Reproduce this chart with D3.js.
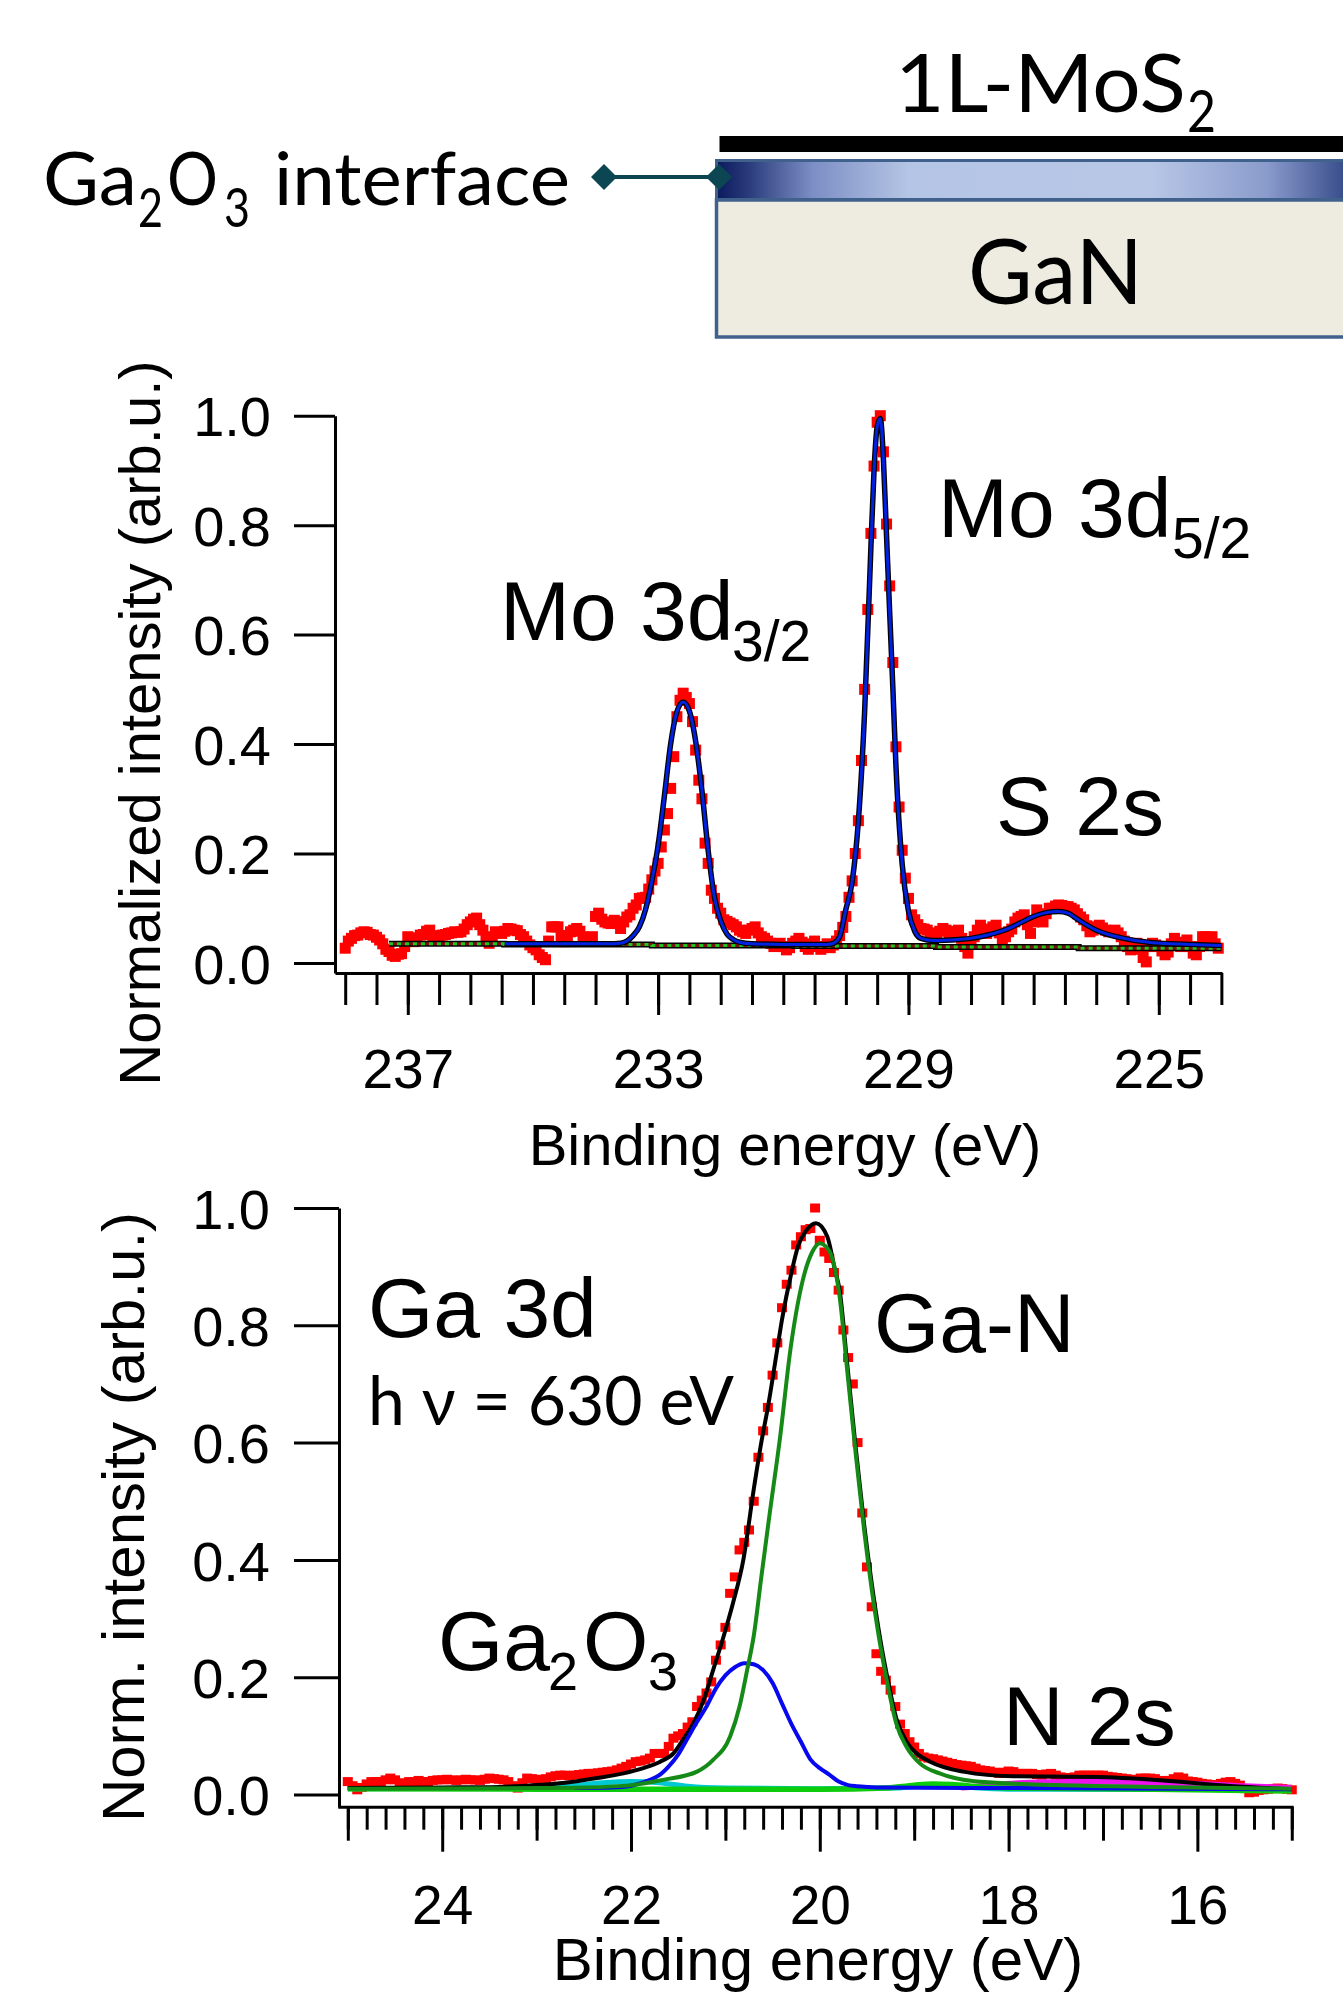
<!DOCTYPE html>
<html>
<head>
<meta charset="utf-8">
<script src="https://cdn.jsdelivr.net/npm/d3@7/dist/d3.min.js"></script>
<style>
  body { margin: 0; background: #fff; }
  svg { display: block; }
  .ax path, .ax line { stroke: #000; stroke-width: 3; }
  .ax text { font-family: "Liberation Sans", Arial, sans-serif; fill: #000; }
  .lbl { font-family: "Liberation Sans", Arial, sans-serif; fill: #000; }
  .cal { font-family: Lato, "Open Sans", sans-serif; fill: #000; }
</style>
</head>
<body>
<svg id="fig" width="1343" height="1995"></svg>
<script>
// ---------------- data ----------------

// Mo 3d / S 2s spectrum, sampled from 238.00 eV down to 224.05 eV every 0.05 eV
const moStart = 238.0, moStep = 0.05
const moCounts = [
  .027,.040,.045,.050,.051,.055,.057,.056,.052,.051,.047,.042,.035,.025,.021,.014,.012,.016,.017,.030,
  .048,.046,.039,.044,.051,.052,.058,.060,.050,.042,.046,.051,.052,.054,.055,.057,.056,.057,.062,.070,
  .075,.080,.082,.070,.060,.045,.036,.048,.057,.056,.054,.058,.063,.062,.060,.059,.052,.048,.040,.033,
  .028,.024,.015,.010,.006,.040,.066,.066,.066,.050,.039,.050,.057,.060,.063,.058,.048,.042,.045,.048,
  .085,.091,.080,.075,.073,.072,.078,.075,.063,.075,.084,.088,.100,.106,.118,.119,.120,.135,.152,.168,
  .182,.212,.243,.273,.319,.377,.450,.480,.493,.485,.474,.441,.389,.334,.300,.219,.182,.133,.118,.100,
  .091,.079,.076,.073,.070,.066,.060,.057,.054,.060,.063,.066,.055,.048,.045,.040,.036,.030,.033,.036,
  .030,.024,.028,.036,.040,.045,.038,.030,.025,.035,.040,.030,.025,.030,.035,.028,.033,.040,.050,.065,
  .085,.120,.150,.200,.260,.370,.500,.646,.785,.908,.988,1.00,.934,.802,.689,.549,.395,.285,.206,.155,
  .118,.088,.079,.070,.063,.062,.060,.055,.048,.050,.058,.063,.060,.054,.056,.058,.060,.045,.030,.018,
  .035,.048,.060,.069,.062,.054,.060,.066,.069,.055,.042,.048,.057,.062,.075,.082,.085,.088,.070,.054,
  .075,.097,.085,.075,.090,.100,.100,.104,.106,.105,.103,.103,.100,.097,.090,.084,.079,.068,.057,.060,
  .066,.069,.064,.060,.057,.058,.060,.055,.048,.040,.030,.024,.030,.036,.025,.010,.002,.030,.036,.033,
  .030,.022,.015,.020,.035,.045,.038,.030,.036,.042,.030,.018,.015,.030,.048,.048,.045,.048,.035,.027
]

// fit envelope (Mo 3d doublet + S 2s), energy / intensity pairs
const moFitE = [235.45,234.5,233.8,233.6,233.5,233.4,233.3,233.2,233.1,233.0,232.9,232.8,232.7,232.6,
  232.5,232.4,232.3,232.2,232.1,232.0,231.9,231.8,231.7,231.5,231.0,230.5,230.3,230.2,230.1,230.0,
  229.9,229.8,229.7,229.6,229.55,229.5,229.45,229.4,229.35,229.3,229.25,229.2,229.1,229.0,228.9,228.8,
  228.6,228.2,228.0,227.7,227.4,227.2,227.0,226.8,226.6,226.45,226.3,226.0,225.6,225.1,224.5,224.0]
const moFitV = [.035,.035,.035,.036,.040,.050,.066,.098,.150,.215,.305,.400,.459,.477,
  .460,.405,.315,.205,.120,.077,.053,.043,.038,.035,.034,.034,.034,.036,.048,.098,
  .148,.260,.460,.760,.900,.980,.995,.920,.780,.640,.505,.360,.180,.095,.058,.045,
  .041,.043,.045,.052,.063,.074,.085,.092,.094,.091,.080,.060,.046,.037,.034,.032]

// stepped background: segment edges and levels
const moBgE = [237.3, 235.46, 233.1, 230.83, 228.56, 226.28, 224.0]
const moBgV = [.035, .034, .032, .031, .029, .027]

const moMajorTicks = [237, 233, 229, 225]
const yTicks = [0, 0.2, 0.4, 0.6, 0.8, 1.0]

// Ga 3d / N 2s spectrum, sampled from 25.00 eV down to 15.00 eV every 0.05 eV
const gaStart = 25.0, gaStep = 0.05
const gaCounts = [
  .022,.015,.008,.012,.018,.022,.022,.022,.025,.028,.025,.019,.020,.022,.022,.024,.022,.022,.024,.025,
  .025,.026,.025,.024,.025,.026,.025,.025,.024,.026,.028,.027,.026,.025,.022,.015,.011,.020,.028,.027,
  .026,.025,.027,.030,.032,.033,.033,.032,.033,.034,.035,.036,.036,.037,.038,.039,.040,.042,.045,.048,
  .052,.056,.057,.059,.062,.070,.070,.070,.082,.096,.100,.104,.115,.124,.150,.161,.173,.192,.229,.255,
  .285,.343,.371,.417,.430,.451,.500,.575,.620,.660,.715,.770,.830,.870,.894,.937,.951,.963,.965,1.00,
  .945,.925,.914,.890,.860,.792,.745,.700,.600,.480,.388,.320,.240,.210,.195,.178,.150,.120,.104,.090,
  .081,.070,.064,.062,.061,.059,.057,.055,.053,.051,.050,.049,.048,.045,.042,.041,.040,.038,.036,.038,
  .040,.039,.036,.036,.036,.036,.034,.033,.035,.036,.033,.030,.029,.028,.030,.033,.033,.033,.033,.033,
  .033,.031,.030,.029,.028,.027,.025,.026,.028,.028,.028,.027,.024,.022,.024,.027,.030,.028,.023,.022,
  .021,.019,.018,.016,.017,.019,.021,.022,.019,.016,.010,.003,.004,.007,.008,.009,.010,.011,.010,.009,
  .008
]

// fit envelope (black)
const gaSumE = [25.0,24.0,23.4,23.0,22.7,22.36,22.08,21.87,21.69,21.55,21.45,21.34,21.23,21.13,21.02,
  20.92,20.81,20.70,20.62,20.55,20.45,20.40,20.30,20.23,20.15,20.04,19.92,19.84,19.79,19.71,19.62,
  19.53,19.45,19.36,19.27,19.19,19.08,19.00,18.83,18.48,17.95,17.07,16.36,15.65,15.0]
const gaSumV = [.011,.012,.013,.016,.020,.028,.036,.045,.056,.070,.093,.121,.161,.212,.269,
  .326,.400,.520,.600,.660,.760,.810,.890,.935,.960,.974,.951,.895,.860,.735,.592,
  .460,.360,.265,.188,.130,.090,.074,.056,.039,.031,.030,.024,.0145,.009]

// Ga-N component (green)
const gaNE = [25.0,23.0,22.5,22.0,21.66,21.30,21.13,20.95,20.85,20.77,20.70,20.62,20.53,20.42,20.31,
  20.18,20.08,20.00,19.94,19.88,19.79,19.71,19.62,19.53,19.45,19.36,19.27,19.19,19.08,18.94,18.73,
  18.48,18.13,17.5,16.5,15.0]
const gaNV = [.010,.011,.012,.016,.025,.039,.059,.099,.150,.212,.270,.370,.480,.610,.760,
  .877,.925,.940,.935,.920,.849,.724,.582,.450,.350,.255,.178,.121,.081,.053,.036,
  .025,.020,.016,.013,.010]

// Ga2O3 component (blue)
const gaOxE = [22.6,22.2,22.0,21.8,21.7,21.6,21.5,21.4,21.3,21.2,21.1,21.0,20.9,20.8,20.7,20.6,20.5,
  20.4,20.3,20.2,20.1,20.0,19.9,19.8,19.7,19.6,19.4,18.0,15.0]
const gaOxV = [.011,.012,.015,.025,.033,.048,.068,.096,.124,.150,.181,.203,.217,.224,.222,.212,.190,
  .155,.120,.090,.060,.045,.034,.022,.016,.014,.012,.011,.009]

// small components near the baseline
const gaCyanE = [25.0,23.0,22.7,22.3,22.0,21.7,21.4,21.0,20.0,19.2,18.9,18.7,18.4,18.0,15.0]
const gaCyanV = [.010,.011,.014,.020,.022,.020,.014,.011,.010,.011,.015,.016,.012,.009,.008]
const gaLimeE = [25.0,22.0,20.0,19.3,19.0,18.8,18.6,18.3,18.0,17.0,16.0,15.0]
const gaLimeV = [.010,.009,.009,.011,.016,.018,.017,.013,.011,.010,.008,.006]
const gaPinkE = [18.5,18.2,17.9,17.5,17.0,16.5,16.0,15.5,15.0]
const gaPinkV = [.012,.015,.019,.021,.022,.020,.018,.014,.011]

const gaMajorTicks = [24, 22, 20, 18, 16]
const gaMidTicks = [25, 23, 21, 19, 17, 15]

// ---------------- setup ----------------
const svg = d3.select("#fig")
const zip = (es, vs) => es.map((e, i) => [e, vs[i]])
const sampled = (start, step, vs) => vs.map((v, i) => [+(start - i * step).toFixed(2), v])

// ---------------- schematic ----------------
const defs = svg.append("defs")
const grad = defs.append("linearGradient").attr("id", "band")
grad.selectAll("stop")
  .data([[0, "#0a1a5c"], [0.05, "#2a3b7c"], [0.15, "#7c8ec4"], [0.3, "#b5c5e5"], [0.68, "#b8c7e6"], [0.86, "#8a9bcc"], [1, "#2c4182"]])
  .join("stop")
  .attr("offset", d => d[0])
  .attr("stop-color", d => d[1])

// MoS2 layer
svg.append("rect").attr("x", 719.5).attr("y", 136).attr("width", 640).attr("height", 16).attr("fill", "#000")
// oxide interface band
svg.append("rect").attr("x", 716.5).attr("y", 160.5).attr("width", 640).attr("height", 39)
  .attr("fill", "url(#band)").attr("stroke", "#41618d").attr("stroke-width", 3)
// GaN substrate
svg.append("rect").attr("x", 716.5).attr("y", 200).attr("width", 640).attr("height", 137)
  .attr("fill", "#eeece1").attr("stroke", "#41618d").attr("stroke-width", 3.5)

// connector with diamond ends
svg.append("line").attr("x1", 604).attr("x2", 719).attr("y1", 177).attr("y2", 177)
  .attr("stroke", "#0b4652").attr("stroke-width", 4)
svg.selectAll("path.dia").data([604, 719]).join("path")
  .attr("class", "dia")
  .attr("d", d => `M${d - 13},177L${d},164L${d + 13},177L${d},190Z`)
  .attr("fill", "#0b4652")

// schematic texts (Calibri-like)
const calText = (t, x, y, size, len) => svg.append("text").attr("class", "cal")
  .attr("x", x).attr("y", y).style("font-size", size + "px")
  .attr("textLength", len).attr("lengthAdjust", "spacingAndGlyphs").text(t)

calText("1L-MoS", 895, 112, 82, 291)
calText("2", 1187, 132, 58, 29)
calText("Ga", 43, 205, 74, 94)
calText("2", 138, 227, 54, 25)
calText("O", 167, 205, 74, 51)
calText("3", 224, 227, 54, 26)
calText("interface", 274, 205, 74, 296)
calText("GaN", 968, 304, 91, 175)

// ---------------- top panel: Mo 3d ----------------
const x1 = d3.scaleLinear().domain([238.163, 223.99]).range([335, 1222])
const y1 = d3.scaleLinear().domain([-0.0183, 1]).range([973, 415.7])

// minor ticks every 0.5 eV with the axis line
svg.append("g").attr("class", "ax").attr("transform", "translate(0,973)")
  .call(d3.axisBottom(x1).tickValues(d3.range(224, 238.01, 0.5)).tickSize(32).tickSizeOuter(0).tickFormat(""))
// labelled ticks
svg.append("g").attr("class", "ax").attr("transform", "translate(0,973)")
  .call(d3.axisBottom(x1).tickValues(moMajorTicks).tickSize(42).tickPadding(34).tickFormat(d3.format("d")))
  .call(g => g.select(".domain").remove())
  .selectAll("text").style("font-size", "55px")

svg.append("g").attr("class", "ax").attr("transform", "translate(335,0)")
  .call(d3.axisLeft(y1).tickValues(yTicks).tickSize(41).tickPadding(23).tickSizeOuter(0).tickFormat(d3.format(".1f")))
  .selectAll("text").style("font-size", "56px").attr("dy", "0.36em")

// data points
svg.append("g").selectAll("rect")
  .data(sampled(moStart, moStep, moCounts))
  .join("rect")
  .attr("x", d => x1(d[0]) - 5.5)
  .attr("y", d => y1(d[1]) - 5.5)
  .attr("width", 11)
  .attr("height", 11)
  .attr("fill", "#ff0000")

// stepped background: black line with maroon / green dashes
const bgPts = moBgV.map((v, i) => [moBgE[i], v]).concat([[moBgE[moBgE.length - 1], moBgV[moBgV.length - 1]]])
const bgLine = d3.line().x(d => x1(d[0])).y(d => y1(d[1])).curve(d3.curveStepAfter)
svg.append("path").attr("d", bgLine(bgPts)).attr("fill", "none").attr("stroke", "#000").attr("stroke-width", 6)
svg.append("path").attr("d", bgLine(bgPts)).attr("fill", "none").attr("stroke", "#7a1010").attr("stroke-width", 3)
svg.append("path").attr("d", bgLine(bgPts)).attr("fill", "none").attr("stroke", "#1fc41f").attr("stroke-width", 3)
  .attr("stroke-dasharray", "4 4")

// fit: black envelope under blue component
const fit1 = d3.line().x(d => x1(d[0])).y(d => y1(d[1])).curve(d3.curveMonotoneX)
svg.append("path").attr("d", fit1(zip(moFitE, moFitV))).attr("fill", "none").attr("stroke", "#000").attr("stroke-width", 5.5)
svg.append("path").attr("d", fit1(zip(moFitE, moFitV))).attr("fill", "none").attr("stroke", "#0022e0").attr("stroke-width", 3)

// labels
const lbl = (t, x, y, size) => svg.append("text").attr("class", "lbl")
  .attr("x", x).attr("y", y).style("font-size", size + "px").text(t)

lbl("Mo 3d", 500, 640, 84)
lbl("3/2", 732, 661, 57)
lbl("Mo 3d", 938, 537, 84)
lbl("5/2", 1172, 558, 57)
lbl("S 2s", 996, 835, 84)

svg.append("text").attr("class", "lbl").attr("text-anchor", "middle")
  .attr("transform", "translate(160,723) rotate(-90)")
  .style("font-size", "58px").text("Normalized intensity (arb.u.)")
svg.append("text").attr("class", "lbl").attr("text-anchor", "middle")
  .attr("x", 785).attr("y", 1165).style("font-size", "58px").text("Binding energy (eV)")

// ---------------- bottom panel: Ga 3d ----------------
const x2 = d3.scaleLinear().domain([25.106, 14.987]).range([337.8, 1293])
const y2 = d3.scaleLinear().domain([-0.0208, 1]).range([1806.7, 1208])

svg.append("g").attr("class", "ax").attr("transform", "translate(0,1806.7)")
  .call(d3.axisBottom(x2).tickValues(d3.range(15, 25.01, 0.2)).tickSize(23).tickSizeOuter(0).tickFormat(""))
svg.append("g").attr("class", "ax").attr("transform", "translate(0,1806.7)")
  .call(d3.axisBottom(x2).tickValues(gaMidTicks).tickSize(34).tickFormat(""))
  .call(g => g.select(".domain").remove())
svg.append("g").attr("class", "ax").attr("transform", "translate(0,1806.7)")
  .call(d3.axisBottom(x2).tickValues(gaMajorTicks).tickSize(45).tickPadding(33).tickFormat(d3.format("d")))
  .call(g => g.select(".domain").remove())
  .selectAll("text").style("font-size", "55px")

svg.append("g").attr("class", "ax").attr("transform", "translate(339,0)")
  .call(d3.axisLeft(y2).tickValues(yTicks).tickSize(45).tickPadding(24).tickSizeOuter(0).tickFormat(d3.format(".1f")))
  .selectAll("text").style("font-size", "56px").attr("dy", "0.36em")

svg.append("g").selectAll("rect")
  .data(sampled(gaStart, gaStep, gaCounts))
  .join("rect")
  .attr("x", d => x2(d[0]) - 5)
  .attr("y", d => y2(d[1]) - 4.5)
  .attr("width", 10)
  .attr("height", 9)
  .attr("fill", "#ff0000")

const fit2 = d3.line().x(d => x2(d[0])).y(d => y2(d[1])).curve(d3.curveMonotoneX)
const comps = [
  [gaPinkE, gaPinkV, "#ee10ee", 6],
  [gaCyanE, gaCyanV, "#00c8d2", 5],
  [gaLimeE, gaLimeV, "#0ccc0c", 5.5],
  [gaSumE, gaSumV, "#000000", 4],
  [gaOxE, gaOxV, "#0808f0", 4],
  [gaNE, gaNV, "#168a16", 4]
]
comps.forEach(c => {
  svg.append("path")
    .attr("d", fit2(zip(c[0], c[1])))
    .attr("fill", "none")
    .attr("stroke", c[2])
    .attr("stroke-width", c[3])
})

lbl("Ga 3d", 368, 1337, 84)
lbl("Ga-N", 874, 1352, 84)
lbl("Ga", 438, 1670, 84)
lbl("2", 548, 1690, 54)
lbl("O", 583, 1670, 84)
lbl("3", 648, 1690, 54)
lbl("N 2s", 1003, 1745, 84)
calText("h \u03bd = 630 eV", 368, 1425, 68, 366)

svg.append("text").attr("class", "lbl").attr("text-anchor", "middle")
  .attr("transform", "translate(144,1517) rotate(-90)")
  .style("font-size", "60px").text("Norm. intensity (arb.u.)")
svg.append("text").attr("class", "lbl").attr("text-anchor", "middle")
  .attr("x", 818).attr("y", 1980).style("font-size", "60px").text("Binding energy (eV)")
</script>
</body>
</html>
